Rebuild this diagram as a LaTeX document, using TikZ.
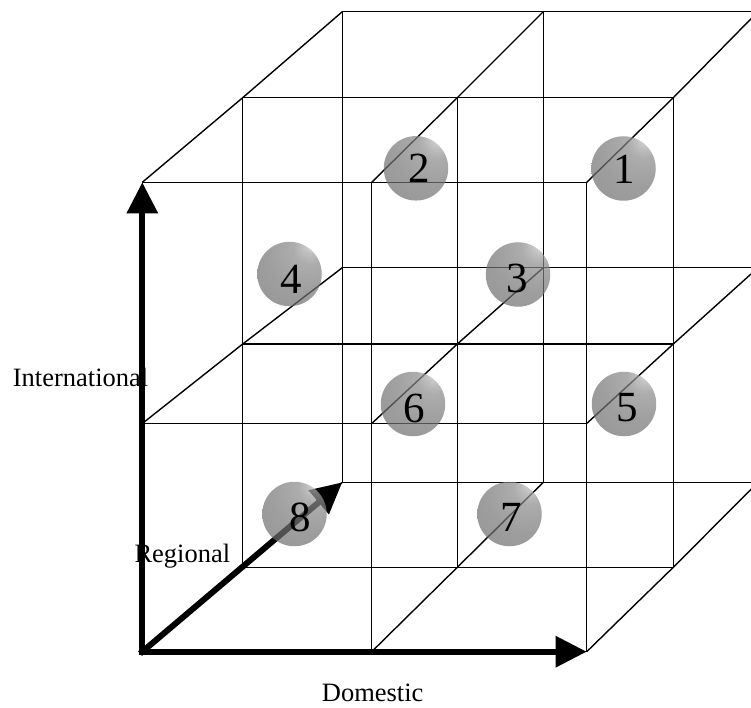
\documentclass[tikz,border=0pt]{standalone}
\usepackage{fontspec}
\setmainfont{Liberation Serif}
\usetikzlibrary{arrows.meta}
\pgfdeclareradialshading{refball}{\pgfpoint{18bp}{24bp}}{color(0bp)=(black!20); color(7bp)=(black!36); color(13bp)=(black!46); color(30bp)=(black!54); color(55bp)=(black!60); color(78bp)=(black!72); color(100bp)=(black!72)}
\begin{document}
\begin{tikzpicture}[x=1pt,y=-1pt,
  gridline/.style={line width=1.4pt, line join=miter},
  axis/.style={line width=6pt, line cap=rect, -{Triangle[length=31pt,width=30pt]}},
  ballnode/.style={circle, minimum size=64.5pt, inner sep=0pt, shading=refball, fill opacity=0.7, draw=none},
  digit/.style={font=\fontsize{43}{46}\selectfont, inner sep=0pt},
  axislabel/.style={font=\fontsize{26.5}{30}\selectfont, inner sep=0pt, anchor=base west}]
\useasboundingbox (0,0) rectangle (751,708);
% front layer
\coordinate (F-1-1) at (142.3,182.3); \coordinate (F-2-1) at (371.7,182.3); \coordinate (F-3-1) at (586.7,182.3);
\coordinate (F-1-2) at (142.3,423.5); \coordinate (F-2-2) at (371.7,423.5); \coordinate (F-3-2) at (586.7,423.5);
\coordinate (F-1-3) at (142.3,651.7); \coordinate (F-2-3) at (371.7,651.7); \coordinate (F-3-3) at (586.7,651.7);
% middle layer
\coordinate (M-1-1) at (242.7,97.7); \coordinate (M-2-1) at (457.3,97.7); \coordinate (M-3-1) at (673.3,97.7);
\coordinate (M-1-2) at (242.7,344); \coordinate (M-2-2) at (457.3,344); \coordinate (M-3-2) at (673.3,344);
\coordinate (M-1-3) at (242.7,567.3); \coordinate (M-2-3) at (457.3,567.3); \coordinate (M-3-3) at (673.3,567.3);
% back layer
\coordinate (B-1-1) at (342.3,11.7); \coordinate (B-2-1) at (543.3,11.7); \coordinate (B-3-1) at (758,11.7);
\coordinate (B-1-2) at (342.3,267.7); \coordinate (B-2-2) at (543.3,267.7); \coordinate (B-3-2) at (758,267.7);
\coordinate (B-1-3) at (342.3,482.3); \coordinate (B-2-3) at (543.3,482.3); \coordinate (B-3-3) at (758,482.3);
% grid
\foreach \L in {F,M,B}{
  \foreach \i in {1,2,3}{
    \draw[gridline] (\L-1-\i) -- (\L-3-\i);
    \draw[gridline] (\L-\i-1) -- (\L-\i-3);
  }
}
\foreach \c in {1,2,3}{
  \foreach \r in {1,2,3}{
    \draw[gridline] (F-\c-\r) -- (M-\c-\r) -- (B-\c-\r);
  }
}
% labels
\node[axislabel] (intl) at (12.7,386.7) {International};
\node[axislabel] (regl) at (134.3,562.7) {Regional};
\node[axislabel] (dome) at (321.7,701.5) {Domestic};
% axes
\draw[axis] (F-1-3) -- (F-1-1);
\draw[axis] (F-1-3) -- (F-3-3);
\draw[axis] (F-1-3) -- (B-1-3);
% spheres
\node[ballnode] (b1) at (623.5,168.5) {};
\node[ballnode] (b2) at (416,168.3) {};
\node[ballnode] (b3) at (518,274.5) {};
\node[ballnode] (b4) at (289.5,274) {};
\node[ballnode] (b5) at (624,404) {};
\node[ballnode] (b6) at (413,404) {};
\node[ballnode] (b7) at (509.5,514) {};
\node[ballnode] (b8) at (294.5,514) {};
\node[digit] (d1) at (624,169.5) {1};
\node[digit] (d2) at (418.8,168) {2};
\node[digit] (d3) at (517.5,278.7) {3};
\node[digit] (d4) at (291,279.7) {4};
\node[digit] (d5) at (627.5,407.5) {5};
\node[digit] (d6) at (414,408) {6};
\node[digit] (d7) at (511.7,517) {7};
\node[digit] (d8) at (300,517.5) {8};
\end{tikzpicture}
\end{document}
